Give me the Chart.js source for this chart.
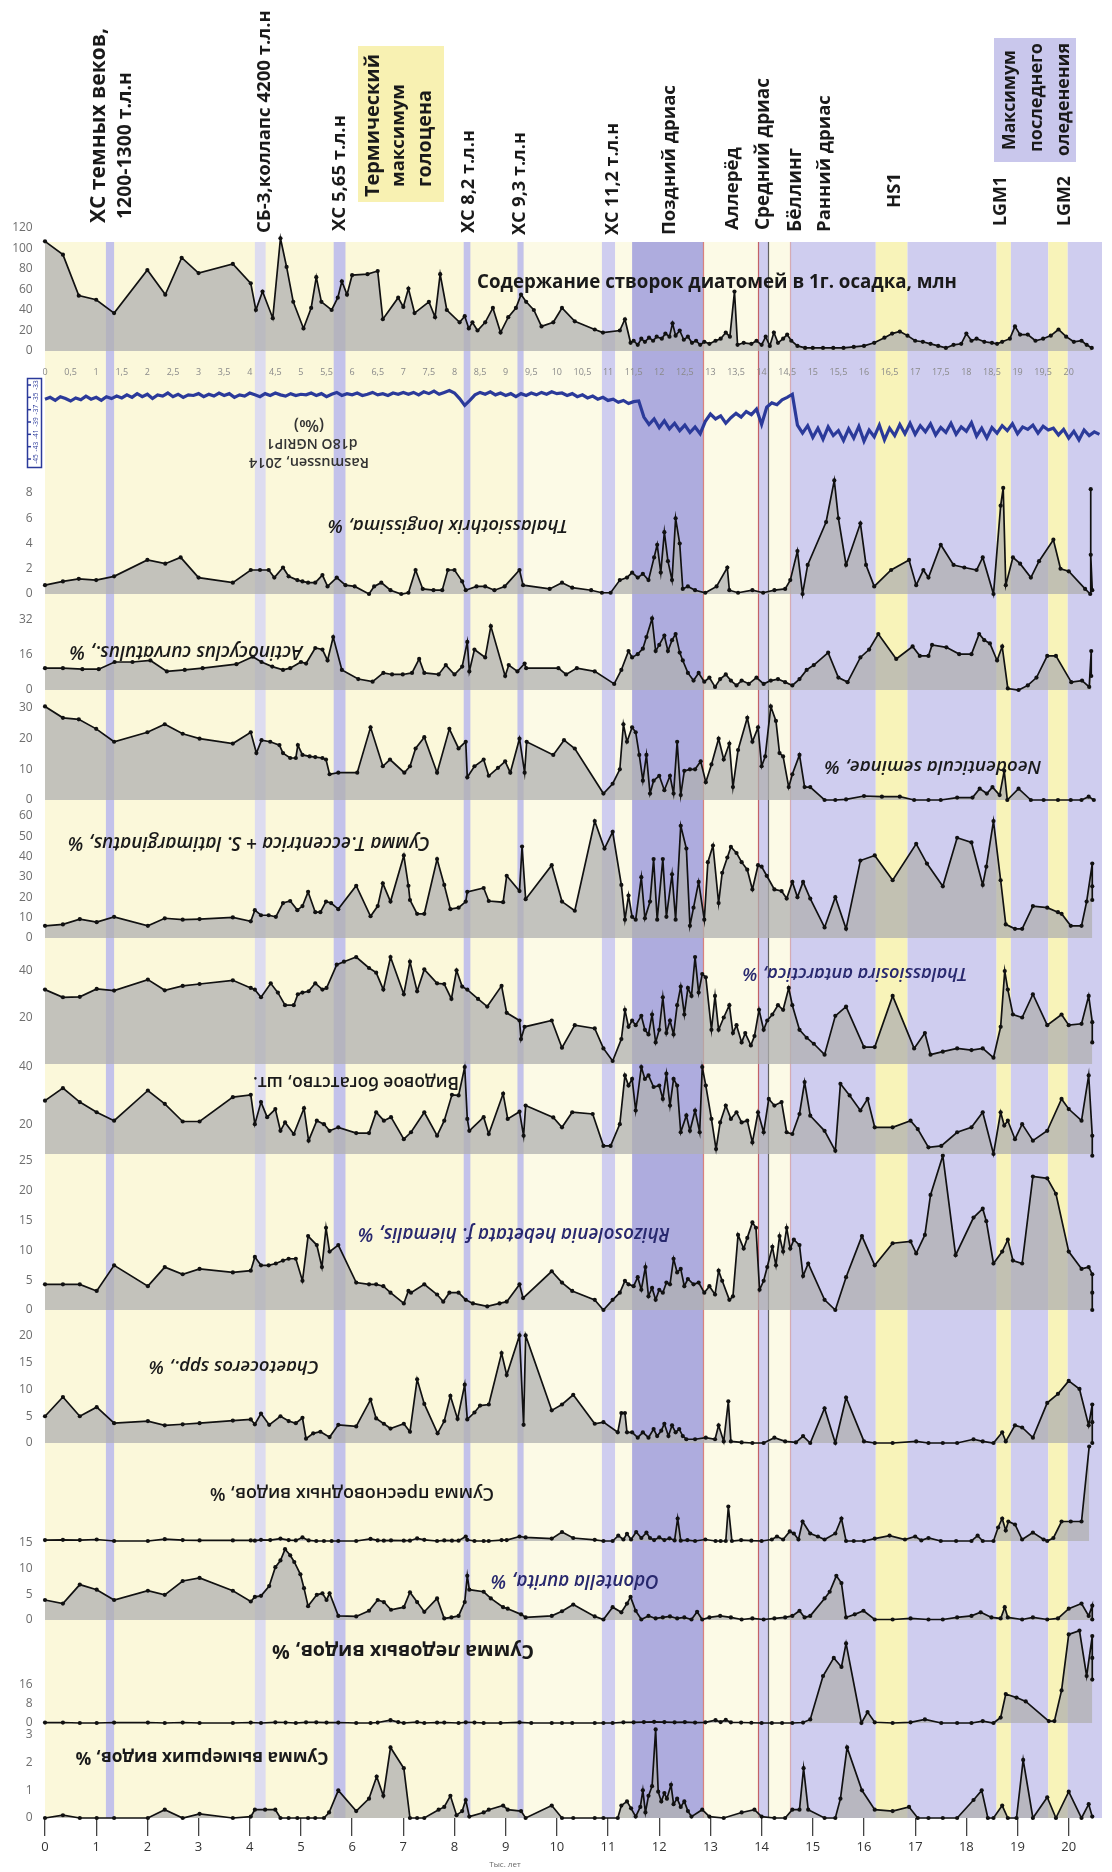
<!DOCTYPE html>
<html><head><meta charset="utf-8">
<script src="https://cdn.jsdelivr.net/npm/chart.js@4.4.1/dist/chart.umd.min.js"></script>
<style>html,body{margin:0;padding:0;background:#fff;}canvas{display:block;}</style>
</head><body>
<canvas id="c" width="1112" height="1872" style="width:1112px;height:1872px"></canvas>
<script>
// ---------------- DATA ----------------
const ageTicks = [0,1,2,3,4,5,6,7,8,9,10,11,12,13,14,15,16,17,18,19,20];
const ageTicksFine = [0,0.5,1,1.5,2,2.5,3,3.5,4,4.5,5,5.5,6,6.5,7,7.5,8,8.5,9,9.5,10,10.5,11,11.5,12,12.5,13,13.5,14,14.5,15,15.5,16,16.5,17,17.5,18,18.5,19,19.5,20];
const ageTicksFineLabels = ['0','0,5','1','1,5','2','2,5','3','3,5','4','4,5','5','5,5','6','6,5','7','7,5','8','8,5','9','9,5','10','10,5','11','11,5','12','12,5','13','13,5','14','14,5','15','15,5','16','16,5','17','17,5','18','18,5','19','19,5','20'];

const diatomTicks = [0,20,40,60,80,100,120];
const thalassiothrixTicks = [0,2,4,6,8];
const actinocyclusTicks = [0,16,32];
const neodenticulaTicks = [0,10,20,30];
const eccentricaTicks = [0,10,20,30,40,50,60];
const antarcticaTicks = [20,40];
const richnessTicks = [20,40];
const rhizosoleniaTicks = [0,5,10,15,20,25];
const chaetocerosTicks = [0,5,10,15,20];
const odontellaTicks = [0,5,10,15];
const iceTicks = [0,8,16];
const extinctTicks = [0,1,2,3];
const d18OTicks = [-33,-35,-37,-39,-41,-43,-45];

// climate intervals [start ka, end ka, kind]
const intervals = [
 [0,10.88,'holocene'],[9.35,10.88,'interstadial'],
 [1.19,1.35,'event'],[4.1,4.31,'eventLight'],[5.64,5.87,'event'],[8.18,8.31,'event'],[9.23,9.35,'event'],
 [10.88,11.14,'stadial'],[11.14,11.47,'interstadial'],[11.47,12.86,'youngerDryas'],[12.86,13.93,'interstadial'],
 [13.93,14.13,'stadial'],[14.13,14.56,'interstadial'],[14.56,16.23,'stadial'],[16.23,16.85,'warm'],
 [16.85,18.59,'stadial'],[18.59,18.87,'warm'],[18.87,19.6,'stadial'],[19.6,19.98,'warm'],[19.98,20.65,'stadial']
];
const boundaries = [[12.86,'rgba(205,90,90,0.75)'],[13.93,'rgba(190,70,70,0.8)'],[14.13,'rgba(70,70,70,0.85)'],[14.56,'rgba(210,140,140,0.6)']];

const diatomContent = [[0,107],[0.35,94],[0.66,54],[1.0,50],[1.35,37],[2.0,79],[2.35,55],[2.67,91],[3.0,76],[3.67,85],[4.02,66],[4.12,40],[4.25,58],[4.45,32],[4.6,110],[4.72,82],[4.85,48],[5.05,22],[5.2,42],[5.3,72],[5.4,48],[5.6,40],[5.72,52],[5.8,68],[5.9,55],[6.0,74],[6.3,75],[6.5,78],[6.6,31],[6.9,52],[7.0,43],[7.1,61],[7.22,37],[7.5,48],[7.62,33],[7.72,75],[7.85,40],[8.1,28],[8.2,34],[8.28,22],[8.35,28],[8.45,20],[8.6,28],[8.75,42],[8.9,18],[9.05,33],[9.2,42],[9.3,55],[9.4,48],[9.55,40],[9.7,24],[9.93,28],[10.1,42],[10.35,29],[10.74,21],[10.9,18],[11.23,20],[11.33,31],[11.44,8],[11.5,10],[11.58,6],[11.65,12],[11.72,9],[11.8,13],[11.88,10],[11.95,14],[12.05,12],[12.12,17],[12.2,14],[12.26,27],[12.32,15],[12.4,20],[12.48,11],[12.56,14],[12.64,8],[12.72,10],[12.8,6],[12.88,9],[12.98,7],[13.1,10],[13.2,12],[13.3,18],[13.38,14],[13.47,58],[13.53,6],[13.65,8],[13.8,7],[13.9,10],[14.0,6],[14.08,14],[14.16,5],[14.24,18],[14.32,8],[14.42,12],[14.5,16],[14.58,10],[14.7,5],[14.85,3],[15.0,3],[15.2,3],[15.4,3],[15.6,3],[15.8,4],[16.0,5],[16.2,8],[16.4,13],[16.55,17],[16.7,19],[16.85,15],[17.0,10],[17.15,9],[17.3,7],[17.45,5],[17.6,3],[17.75,6],[17.9,7],[18.0,17],[18.1,10],[18.2,12],[18.35,9],[18.5,8],[18.6,7],[18.7,9],[18.85,12],[18.95,24],[19.05,16],[19.2,16],[19.35,10],[19.5,12],[19.65,15],[19.8,21],[19.95,14],[20.1,9],[20.25,10],[20.35,6],[20.45,3]];

const d18OAge = [0,0.1,0.2,0.3,0.4,0.5,0.6,0.7,0.8,0.9,1,1.1,1.2,1.3,1.4,1.5,1.6,1.7,1.8,1.9,2,2.1,2.2,2.3,2.4,2.5,2.6,2.7,2.8,2.9,3,3.1,3.2,3.3,3.4,3.5,3.6,3.7,3.8,3.9,4,4.1,4.2,4.3,4.4,4.5,4.6,4.7,4.8,4.9,5,5.1,5.2,5.3,5.4,5.5,5.6,5.7,5.8,5.9,6,6.1,6.2,6.3,6.4,6.5,6.6,6.7,6.8,6.9,7,7.1,7.2,7.3,7.4,7.5,7.6,7.7,7.8,7.9,8,8.1,8.2,8.3,8.4,8.5,8.6,8.7,8.8,8.9,9,9.1,9.2,9.3,9.4,9.5,9.6,9.7,9.8,9.9,10,10.1,10.2,10.3,10.4,10.5,10.6,10.7,10.8,10.9,11,11.1,11.2,11.3,11.4,11.5,11.6,11.7,11.8,11.9,12,12.1,12.2,12.3,12.4,12.5,12.6,12.7,12.8,12.9,13,13.1,13.2,13.3,13.4,13.5,13.6,13.7,13.8,13.9,14,14.1,14.2,14.3,14.4,14.5,14.6,14.7,14.8,14.9,15,15.1,15.2,15.3,15.4,15.5,15.6,15.7,15.8,15.9,16,16.1,16.2,16.3,16.4,16.5,16.6,16.7,16.8,16.9,17,17.1,17.2,17.3,17.4,17.5,17.6,17.7,17.8,17.9,18,18.1,18.2,18.3,18.4,18.5,18.6,18.7,18.8,18.9,19,19.1,19.2,19.3,19.4,19.5,19.6,19.7,19.8,19.9,20,20.1,20.2,20.3,20.4,20.5,20.6];
const d18OVal = [
 -35.3,-35.0,-35.5,-34.9,-35.2,-35.6,-35.1,-35.4,-34.8,-35.3,-35.0,-35.5,-34.9,-35.2,
 -34.8,-35.1,-34.6,-35.0,-34.4,-34.9,-34.5,-35.2,-34.6,-34.8,-34.3,-34.9,-34.5,-35.0,-34.6,-34.7,-34.4,
 -34.9,-34.5,-34.8,-34.3,-34.7,-34.4,-35.0,-34.6,-34.8,-34.3,-34.6,-34.9,-34.4,-34.7,-34.3,-34.6,-34.8,-34.4,-34.7,-34.5,
 -34.6,-34.3,-34.7,-34.4,-34.9,-34.5,-34.2,-34.7,-34.4,-34.6,-34.3,-34.7,-34.5,-34.2,-34.6,-34.4,-34.7,-34.3,-34.5,-34.2,
 -34.5,-34.2,-34.6,-34.1,-34.4,-34.0,-34.5,-34.2,-33.9,-34.3,
 -35.2,-36.3,-35.5,-34.6,-34.2,
 -34.5,-34.1,-34.6,-34.3,-34.7,-34.4,-34.9,-34.4,-34.7,-34.3,-34.6,-34.2,-34.5,-34.1,-34.4,
 -34.3,-34.7,-34.4,-34.9,-34.6,-35.1,-34.8,-35.3,-35.0,-35.5,
 -35.3,-35.8,-35.5,-36.0,-35.7,-35.6,
 -38.2,-39.4,-38.5,-39.9,-38.8,-40.1,-39.2,-40.4,-39.5,-40.7,-39.8,-40.9,
 -38.9,-37.7,-38.5,-38.0,-39.2,-38.3,-37.6,-38.2,-37.3,-37.8,-36.9,-39.4,-36.6,-35.9,-36.2,-35.4,-35.0,-34.5,
 -39.5,-40.8,-39.6,-41.5,-40.0,-41.8,-39.8,-41.2,-40.4,-42.0,
 -40.1,-41.6,-39.7,-42.1,-40.3,-41.4,-39.5,-41.9,-40.0,-41.2,
 -39.4,-40.9,-39.2,-41.0,-39.6,-40.6,-39.3,-41.1,-39.9,-40.7,
 -39.2,-41.0,-39.8,-40.5,-39.1,-41.3,-40.0,-41.6,-39.9,-40.8,
 -39.6,-40.4,-39.3,-40.9,-39.8,-40.2,-39.5,-40.8,-39.7,-40.3,
 -40.0,-41.1,-40.2,-41.6,-40.5,-41.9,-40.3,-41.2,-40.6,-41.0];

const thalassiothrix = [[0,0.7],[0.35,1.0],[0.66,1.2],[1.0,1.1],[1.35,1.4],[2.0,2.7],[2.35,2.4],[2.65,2.9],[3.0,1.3],[3.67,0.9],[4.02,1.9],[4.2,1.9],[4.37,1.9],[4.48,1.3],[4.65,2.1],[4.76,1.4],[4.93,1.1],[5.03,1.0],[5.14,0.9],[5.28,0.9],[5.42,1.5],[5.52,0.6],[5.7,1.3],[5.87,0.7],[6.05,0.6],[6.33,0],[6.43,0.6],[6.57,0.9],[6.75,0.3],[6.96,0],[7.1,0.1],[7.24,1.9],[7.38,0.4],[7.59,0.3],[7.76,0.3],[7.87,1.9],[8.0,1.9],[8.15,1.0],[8.22,0.3],[8.43,0.6],[8.6,0.6],[8.78,0.3],[8.98,0.6],[9.27,1.9],[9.34,0.7],[9.86,0.4],[10.1,0.9],[10.3,0.5],[10.67,0.3],[10.88,0.1],[11.05,0.1],[11.23,1.1],[11.37,1.3],[11.47,1.7],[11.58,1.3],[11.68,1.6],[11.79,1.1],[11.9,2.9],[11.96,3.9],[12.03,1.7],[12.1,4.9],[12.17,2.6],[12.25,1.1],[12.32,6.0],[12.4,4.0],[12.46,0.4],[12.56,0.6],[12.7,0.3],[12.9,0.1],[13.12,0.6],[13.33,2.1],[13.37,0.3],[13.54,0.1],[13.82,0.3],[14.03,0.1],[14.25,0.3],[14.46,0.4],[14.56,1.1],[14.7,3.4],[14.8,0],[14.9,2.3],[15.26,5.7],[15.42,9.0],[15.5,6.0],[15.65,2.3],[15.93,5.6],[16.04,2.3],[16.2,0.6],[16.53,1.9],[16.88,2.7],[17.02,0.7],[17.16,1.9],[17.26,1.3],[17.5,3.9],[17.75,2.3],[17.96,2.1],[18.2,1.9],[18.32,2.9],[18.53,0],[18.67,7.0],[18.72,8.4],[18.77,0.7],[18.91,2.9],[19.05,2.4],[19.26,1.3],[19.42,2.6],[19.7,4.3],[19.84,2.0],[20.0,1.8],[20.32,0.4],[20.42,0],[20.43,8.3],[20.43,3.1],[20.46,0.3]];

const actinocyclus = [[0,10],[0.35,10],[0.73,9.5],[1.05,9.5],[1.36,12.8],[1.71,12.8],[2.06,13.5],[2.38,8.5],[2.73,9.2],[3.08,10],[3.74,11.8],[4.06,15.2],[4.23,12.8],[4.44,10.7],[4.65,9.2],[4.79,10],[5.0,12.8],[5.1,12.1],[5.28,19.2],[5.42,18.5],[5.52,13.5],[5.63,24.2],[5.8,9.2],[6.12,5.0],[6.4,3.8],[6.61,7.8],[6.78,7.1],[6.99,7.1],[7.17,7.8],[7.31,14.2],[7.41,7.8],[7.69,7.1],[7.83,11.4],[8.0,7.1],[8.15,10.7],[8.25,22.0],[8.29,8.5],[8.39,18.5],[8.6,14.9],[8.71,29.2],[8.99,6.4],[9.06,11.4],[9.23,8.5],[9.37,12.1],[9.4,10],[10.03,10],[10.18,7.1],[10.39,10],[10.74,8.5],[11.12,2.8],[11.26,9.2],[11.4,17.8],[11.47,14.9],[11.58,16.4],[11.68,18.9],[11.75,24.2],[11.86,32.7],[11.93,17.8],[12.0,20.6],[12.1,24.9],[12.17,17.8],[12.25,22.8],[12.32,25.6],[12.4,17.1],[12.46,13.5],[12.56,7.8],[12.67,4.3],[12.77,7.8],[12.88,3.8],[12.98,5.7],[13.09,1.4],[13.19,5.0],[13.3,7.1],[13.4,4.3],[13.51,2.1],[13.61,4.3],[13.75,2.8],[13.9,5.7],[14.04,2.8],[14.18,4.3],[14.32,5.0],[14.46,3.6],[14.6,2.1],[14.74,5.0],[14.88,9.2],[15.02,11.4],[15.3,17.1],[15.5,5.7],[15.68,3.6],[15.93,14.9],[16.1,18.5],[16.28,25.6],[16.63,14.2],[16.95,19.9],[17.09,15.6],[17.26,15.6],[17.33,20.6],[17.61,19.5],[17.86,16.4],[18.1,16.4],[18.25,25.6],[18.35,22.8],[18.46,21.3],[18.6,13.5],[18.7,19.9],[18.81,0.7],[19.02,0],[19.2,2.1],[19.37,5.7],[19.58,15.6],[19.75,15.6],[20.05,3.6],[20.26,4.3],[20.4,1.4],[20.44,17.8],[20.44,6.4]];

const neodenticula = [[0,30.5],[0.35,26.8],[0.66,26.3],[1.0,23.2],[1.35,19],[2.0,22.1],[2.34,24.7],[2.69,21.6],[3.02,20],[3.67,18.4],[4.02,22.1],[4.13,15.3],[4.23,19.5],[4.4,19],[4.58,17.9],[4.65,15.3],[4.79,13.7],[4.9,13.7],[4.94,17.9],[5.03,14.7],[5.17,14.2],[5.28,14],[5.42,13.7],[5.49,13.2],[5.56,8.4],[5.73,8.9],[6.1,8.9],[6.36,23.7],[6.6,11],[6.74,13.2],[7.02,8.9],[7.13,11],[7.24,16.8],[7.41,20.5],[7.66,8.9],[7.9,23.2],[8.08,16.8],[8.22,19],[8.25,7.4],[8.39,11],[8.57,13.2],[8.67,7.9],[8.85,10.5],[8.99,12.6],[9.09,8.9],[9.27,20],[9.37,8.9],[9.41,19],[9.93,14.7],[10.14,19.5],[10.35,16.8],[10.91,2.1],[11.09,5.3],[11.23,10],[11.3,24.7],[11.37,19],[11.47,23.7],[11.54,22.1],[11.61,14.7],[11.68,6.3],[11.75,14.7],[11.82,2.1],[11.89,6.3],[12.0,7.9],[12.1,3.2],[12.21,7.9],[12.28,2.1],[12.35,19],[12.42,1.6],[12.49,9.5],[12.6,10],[12.7,10],[12.81,12.6],[12.91,5.8],[13.02,11.6],[13.16,20],[13.26,13.2],[13.37,18.4],[13.44,4.2],[13.54,16.3],[13.72,26.8],[13.82,19],[13.93,23.7],[14.0,11],[14.07,14.2],[14.18,30.5],[14.28,25.8],[14.35,15.3],[14.42,14.2],[14.53,4.2],[14.6,8.4],[14.74,14.7],[14.84,4.2],[14.95,4.2],[15.23,0],[15.44,0],[15.65,0.2],[16.0,1.3],[16.35,1.1],[16.7,1.1],[16.98,0],[17.26,0],[17.5,0],[17.82,0.8],[18.12,0.8],[18.26,3.7],[18.4,2.1],[18.51,4.2],[18.65,1.6],[18.74,9.5],[18.8,0],[19.02,3.7],[19.26,0],[19.51,0],[19.79,0],[20.04,0],[20.25,0],[20.39,1.1],[20.49,0]];

const eccentricaSum = [[0,6],[0.35,6.7],[0.68,9.3],[1.01,7.8],[1.35,10.4],[2.01,6],[2.34,9.7],[2.69,9],[3.02,9.3],[3.67,10.1],[4.02,8.2],[4.1,13.7],[4.22,11.2],[4.37,11.2],[4.51,10.4],[4.65,17.2],[4.79,18.2],[4.93,13.7],[5.03,15.7],[5.14,22.7],[5.28,12.7],[5.38,12.7],[5.49,17.9],[5.59,17.2],[5.73,14.2],[6.08,25.7],[6.36,10.7],[6.5,15.7],[6.6,26.9],[6.75,17.9],[7.01,40.6],[7.1,25.7],[7.13,18.7],[7.27,11.9],[7.41,11.9],[7.66,38.8],[7.8,26.1],[7.92,14.2],[8.08,14.9],[8.22,17.9],[8.25,22.7],[8.57,24.6],[8.67,18.2],[8.95,17.6],[9.02,30.6],[9.27,23.1],[9.32,45],[9.39,19.1],[9.9,35.8],[10.1,17.9],[10.35,13.4],[10.74,57.5],[10.93,44],[11.09,52.2],[11.26,26.1],[11.33,9],[11.4,20.9],[11.47,10.4],[11.54,9],[11.65,29.9],[11.72,9.7],[11.82,17.9],[11.89,38.8],[11.96,9],[12.07,38.8],[12.14,10.4],[12.25,31.3],[12.32,9],[12.42,55.2],[12.53,44],[12.6,6],[12.67,14.9],[12.77,27.6],[12.88,9],[12.95,37.3],[13.05,45.5],[13.16,17.2],[13.23,32.1],[13.33,39.6],[13.4,44.8],[13.51,41.8],[13.61,37.3],[13.72,33.6],[13.82,23.9],[13.93,35.8],[14.0,35.1],[14.1,30.6],[14.25,23.9],[14.39,23.1],[14.49,19.4],[14.6,27.6],[14.7,20.1],[14.81,27.6],[14.95,19.4],[15.23,5.2],[15.44,20.1],[15.65,4.5],[15.93,38.1],[16.21,40.6],[16.56,28.4],[17.02,46.3],[17.23,36.6],[17.54,25.4],[17.82,49.3],[18.1,47],[18.32,26.1],[18.39,35.1],[18.53,57.5],[18.67,28.4],[18.77,6.7],[18.95,4.5],[19.09,4.5],[19.3,15.7],[19.58,14.9],[19.79,12.7],[19.86,11.9],[20.04,6],[20.25,6],[20.35,17.9],[20.46,36.6],[20.46,25.4],[20.46,18.7]];

const antarctica = [[0,32],[0.35,28.7],[0.68,28.9],[1.01,32.3],[1.35,31.6],[2.01,36.3],[2.34,31.7],[2.69,33.6],[3.02,34.4],[3.67,36],[4.02,32.7],[4.1,32],[4.22,28.7],[4.41,34.7],[4.55,30.7],[4.69,25.3],[4.86,25.3],[4.94,30],[5.03,30.7],[5.15,31.3],[5.28,34.7],[5.42,32],[5.5,32.7],[5.7,42.7],[5.84,44],[6.08,46],[6.33,41.3],[6.47,39.3],[6.61,32],[6.75,46],[7.01,30],[7.13,44],[7.27,31.3],[7.41,40.7],[7.66,34.7],[7.8,34.4],[7.94,28],[8.04,40.3],[8.15,33.3],[8.25,32],[8.46,28],[8.64,24.7],[8.92,33.6],[9.02,22],[9.27,18.7],[9.3,10.7],[9.37,16],[9.9,18.7],[10.1,7],[10.35,16.7],[10.74,15.3],[10.91,6.7],[11.09,1.3],[11.26,10.7],[11.33,23.3],[11.4,16],[11.47,18.7],[11.54,16.7],[11.65,20.7],[11.72,14.7],[11.79,12.7],[11.86,21.3],[11.93,9.3],[12.0,14.7],[12.07,28.7],[12.14,13.3],[12.21,18.7],[12.28,12.7],[12.35,25.3],[12.42,33.3],[12.49,21.3],[12.56,32.7],[12.63,29.3],[12.7,46],[12.77,30.7],[12.84,38.7],[12.91,37.3],[13.02,14.7],[13.09,29.3],[13.16,14.7],[13.26,20],[13.37,25.3],[13.44,13.3],[13.51,16.7],[13.61,9.3],[13.68,13.3],[13.79,8],[13.86,12],[13.95,23.3],[14.04,14.7],[14.11,18.7],[14.21,21.3],[14.32,25.3],[14.42,23.3],[14.53,32.7],[14.6,25.3],[14.74,14.7],[14.88,11.3],[15.02,8.7],[15.23,4],[15.44,20.7],[15.65,24.7],[16.0,7.3],[16.21,7.3],[16.56,29.3],[16.98,6.7],[17.19,13.3],[17.3,4],[17.54,5.3],[17.82,6.7],[18.1,6],[18.32,6.7],[18.53,2.7],[18.67,16],[18.75,40],[18.81,32],[18.91,21.3],[19.09,20],[19.3,30],[19.58,16.7],[19.86,21.3],[20.0,16.7],[20.25,17.3],[20.39,29.3],[20.46,18],[20.46,9.3]];

const richness = [[0,28.4],[0.35,32.7],[0.68,27.9],[1.01,24.4],[1.35,21.5],[2.01,31.9],[2.34,27.3],[2.69,21.2],[3.02,21.2],[3.67,29.6],[4.02,30.4],[4.1,20.3],[4.22,27.9],[4.34,22.7],[4.5,25.5],[4.6,18],[4.69,20.9],[4.86,16.9],[5.06,25.8],[5.15,14.6],[5.31,21.5],[5.45,20.3],[5.56,18],[5.73,19.2],[6.08,17.2],[6.33,17.2],[6.47,24.4],[6.62,21.5],[6.76,22.7],[7.01,15.1],[7.15,17.5],[7.41,24.4],[7.66,16.3],[7.8,21.5],[7.95,30.4],[8.08,30.2],[8.2,40],[8.25,22.1],[8.29,18],[8.57,22.7],[8.67,16.9],[8.95,30.8],[9.04,22.1],[9.27,24.6],[9.35,16.3],[9.39,26.7],[9.93,22.6],[10.1,19.2],[10.3,24.4],[10.7,23.8],[10.91,12.8],[11.05,12.8],[11.23,20.3],[11.33,37.1],[11.4,33.6],[11.47,35.9],[11.54,25],[11.65,40],[11.72,35.9],[11.79,37.1],[11.89,33.1],[12.0,33.6],[12.07,29],[12.14,37.7],[12.21,26.7],[12.28,35.9],[12.35,33.6],[12.42,17.5],[12.53,23.3],[12.6,18],[12.7,25],[12.79,17.5],[12.84,40],[12.91,33.6],[13.02,22.1],[13.11,11.7],[13.19,20.9],[13.3,26.7],[13.4,22.1],[13.51,24.4],[13.61,20.9],[13.72,21.5],[13.82,14],[13.93,24.4],[14.04,17.5],[14.14,29],[14.25,26.7],[14.39,27.9],[14.49,17.5],[14.6,16.9],[14.74,23.8],[14.84,34.8],[14.95,23.2],[15.23,18],[15.44,11.1],[15.54,34.2],[15.72,30.2],[15.93,25],[16.07,29],[16.21,19.2],[16.56,19.2],[16.91,21.5],[17.05,18.6],[17.26,12.3],[17.51,12.8],[17.82,17.5],[18.1,19.2],[18.32,24.4],[18.53,10],[18.67,24.4],[18.74,19.8],[18.81,21.5],[18.95,15.1],[19.09,20.3],[19.3,14.6],[19.58,18],[19.86,29],[20.0,25.5],[20.25,21.5],[20.39,37.1],[20.46,16.3],[20.46,9.4]];

const rhizosolenia = [[0,4.3],[0.35,4.3],[0.68,4.3],[1.01,3.2],[1.35,7.5],[2.01,4],[2.34,7.2],[2.69,6],[3.02,6.9],[3.67,6.3],[4.02,6.6],[4.1,8.9],[4.22,7.5],[4.37,7.5],[4.51,7.8],[4.65,8.3],[4.76,8.6],[4.9,8.6],[5.03,4.9],[5.14,12.4],[5.31,10.9],[5.41,7.2],[5.49,13.8],[5.56,9.8],[5.73,10.9],[6.08,4.6],[6.33,4.3],[6.47,4.3],[6.61,4],[6.75,2.9],[7.01,1.1],[7.1,3.2],[7.15,2.9],[7.41,4.3],[7.66,2.6],[7.78,1.4],[7.9,2.9],[8.08,2.9],[8.22,1.7],[8.36,1.1],[8.64,0.6],[8.88,1.1],[9.02,1.4],[9.27,4.3],[9.34,2],[9.9,6.5],[10.1,4.6],[10.3,3.2],[10.74,1.7],[10.91,0],[11.09,1.7],[11.23,2.9],[11.33,4.9],[11.4,4.3],[11.5,4],[11.58,5.5],[11.65,3.4],[11.73,7.2],[11.79,2.3],[11.86,3.7],[11.93,1.7],[12.0,3.4],[12.07,2.9],[12.14,4.6],[12.21,4.3],[12.28,8.6],[12.35,6.3],[12.42,6.9],[12.49,4],[12.56,5.2],[12.67,4.3],[12.77,4.6],[12.88,2.9],[12.98,4],[13.09,2.6],[13.16,6.6],[13.23,4.9],[13.37,1.7],[13.44,2.3],[13.54,12.6],[13.65,10.3],[13.72,12.1],[13.82,14.7],[13.89,13.8],[13.96,3.4],[14.04,4.9],[14.11,7.2],[14.21,10.6],[14.28,7.5],[14.35,12.4],[14.42,9.8],[14.49,13.8],[14.56,10.3],[14.63,11.8],[14.74,10.9],[14.81,5.7],[14.91,7.8],[15.23,1.7],[15.44,0],[15.65,5.5],[15.96,12.4],[16.21,7.5],[16.56,11.2],[16.91,11.5],[17.02,9.5],[17.19,12.6],[17.3,19.3],[17.54,25.9],[17.79,9.2],[18.14,15.5],[18.32,17],[18.39,14.9],[18.53,7.8],[18.7,9.8],[18.81,11.8],[18.91,8.3],[19.09,7.8],[19.3,22.4],[19.58,22.1],[19.75,19.5],[20.0,9.8],[20.25,6.9],[20.39,7.2],[20.46,6],[20.46,2.9],[20.46,0]];

const chaetoceros = [[0,5],[0.35,8.6],[0.68,5],[1.01,6.7],[1.35,3.7],[2.01,4.1],[2.34,3.3],[2.69,3.5],[3.02,3.7],[3.67,4.2],[4.02,4.4],[4.1,3.5],[4.22,5.5],[4.38,3.4],[4.6,5],[4.76,4.1],[4.9,3.7],[5.03,4.7],[5.1,0.8],[5.24,1.8],[5.38,2.1],[5.56,1.1],[5.73,3.4],[6.08,3.1],[6.36,8.1],[6.47,4.6],[6.62,3.6],[6.75,2.7],[7.01,3.6],[7.13,2.1],[7.27,11.9],[7.41,7.3],[7.67,1.8],[7.8,4.1],[7.92,8.8],[8.06,4.5],[8.2,10.9],[8.25,4.4],[8.39,5.7],[8.5,7],[8.67,7.2],[8.92,16.8],[9.02,12.7],[9.27,20.1],[9.35,3.4],[9.39,20.1],[9.9,6.1],[10.1,7.2],[10.32,9],[10.74,3.6],[10.91,3.9],[11.19,2],[11.26,5.6],[11.33,5.6],[11.37,2],[11.47,2],[11.58,1],[11.68,2],[11.79,1],[11.89,2.6],[11.96,1.3],[12.04,2.3],[12.1,3.6],[12.18,1.3],[12.25,3.3],[12.32,2],[12.39,2.6],[12.46,1.3],[12.53,0.7],[12.7,0.7],[12.91,1],[13.09,0.7],[13.16,3.3],[13.26,0.3],[13.35,7.8],[13.4,0.3],[13.61,0.1],[13.82,0],[14.04,0],[14.25,1],[14.46,0.3],[14.67,0.1],[14.81,1.3],[14.95,0],[15.23,6.5],[15.44,0],[15.65,8.5],[16.0,0.3],[16.21,0],[16.56,0],[17.02,0.3],[17.26,0],[17.54,0],[17.82,0],[18.14,0.7],[18.32,0.3],[18.53,0],[18.7,2],[18.77,0.3],[18.95,3.3],[19.09,2.9],[19.3,1],[19.58,7.5],[19.79,9.2],[20.0,11.6],[20.21,10.1],[20.39,3.3],[20.46,7.2],[20.46,3.9],[20.46,0]];

const freshwater = [[0,0.3],[0.35,0.4],[0.68,0.3],[1.01,0.5],[1.35,0],[2.01,0],[2.34,0.6],[2.69,0.3],[3.02,0.2],[3.67,0.2],[4.02,0.2],[4.1,0.1],[4.22,0.4],[4.4,0.3],[4.6,0.8],[4.76,0.3],[4.9,0.2],[5.03,1.2],[5.15,0.2],[5.3,0],[5.45,0],[5.6,0],[5.73,0],[6.08,0],[6.36,0.7],[6.5,0.2],[6.62,0.1],[6.76,0.2],[7.01,0.1],[7.13,0.1],[7.27,0.9],[7.41,0.4],[7.66,0],[7.8,0.2],[7.95,0.1],[8.08,0.1],[8.22,1.5],[8.25,0.4],[8.39,0],[8.57,0],[8.67,0],[8.92,0.3],[9.02,0.3],[9.27,1.5],[9.39,1.2],[9.9,0.8],[10.1,3],[10.32,1],[10.74,0.4],[10.91,0],[11.09,0],[11.2,1.8],[11.3,0.5],[11.37,2.4],[11.45,0.5],[11.55,3],[11.65,1],[11.75,2.8],[11.82,1],[11.9,0.3],[12.0,1.2],[12.1,0.3],[12.2,0.9],[12.3,0.2],[12.36,7.5],[12.42,0.1],[12.55,0.3],[12.7,0],[12.9,0.5],[13.1,0],[13.2,0],[13.3,0],[13.35,11.5],[13.42,0],[13.6,0.3],[13.8,0.1],[14.0,0],[14.2,0.5],[14.3,1.5],[14.42,0.5],[14.55,3.2],[14.63,2.5],[14.72,0.5],[14.8,6.5],[14.95,2.5],[15.1,1.5],[15.23,0.5],[15.44,2.5],[15.56,7.5],[15.65,0],[15.8,0],[16.0,0],[16.21,0.8],[16.5,1.8],[16.8,0.5],[17.0,1.5],[17.12,0.2],[17.26,1],[17.5,0],[17.8,0],[18.1,0],[18.22,1.8],[18.32,0],[18.53,0],[18.62,4.5],[18.7,7.5],[18.77,3.5],[18.82,6.5],[18.95,5.5],[19.09,0.5],[19.3,2.8],[19.51,0.5],[19.58,0],[19.7,1],[19.86,6.5],[20.04,6.5],[20.25,6.5],[20.4,31.5]];

const odontella = [[0,3.9],[0.35,3.2],[0.68,6.9],[1.01,5.9],[1.35,3.9],[2.01,5.7],[2.34,4.9],[2.69,7.6],[3.02,8.2],[3.67,5.7],[4.02,3.6],[4.1,4.5],[4.22,4.7],[4.38,6.6],[4.5,10.3],[4.6,11.6],[4.69,13.8],[4.79,12.6],[4.87,11.3],[4.99,8.9],[5.06,6.2],[5.14,2.7],[5.31,4.9],[5.42,5.2],[5.5,3.9],[5.56,5.2],[5.73,0.8],[6.08,0.7],[6.33,1.8],[6.5,3.9],[6.62,3.5],[6.76,2],[7.01,2.5],[7.13,5.4],[7.27,3.5],[7.41,1.6],[7.66,4.2],[7.8,0.3],[7.94,0.5],[8.08,0.8],[8.2,3.5],[8.25,8.6],[8.29,5.9],[8.57,5.5],[8.71,4.2],[8.95,2.5],[9.04,2.2],[9.3,1.1],[9.39,0.5],[9.9,0.8],[10.1,1.7],[10.32,3],[10.74,0.7],[10.91,0.1],[11.09,2.5],[11.26,1.5],[11.37,3.2],[11.44,4.5],[11.54,1.8],[11.65,0.1],[11.79,0.8],[11.93,0.3],[12.07,0.5],[12.21,0.7],[12.35,0.3],[12.49,0.5],[12.63,0.1],[12.74,1.6],[12.84,0.1],[12.98,0.5],[13.19,0.8],[13.4,0.5],[13.61,0.1],[13.82,0.3],[14.04,0.1],[14.25,0.3],[14.46,0.5],[14.6,0.8],[14.74,1.8],[14.84,0.5],[14.95,0.8],[15.23,4.2],[15.33,5.5],[15.46,8.6],[15.56,7.2],[15.65,0.5],[15.82,1.1],[15.99,1.8],[16.21,0.1],[16.56,0.1],[16.91,0.3],[17.26,0.1],[17.54,0.1],[17.82,0.5],[18.1,0.8],[18.28,1.5],[18.49,0.5],[18.67,0.3],[18.75,2.5],[18.81,0.5],[19.09,0.1],[19.3,0.5],[19.58,0.1],[19.79,0.3],[20.0,2.2],[20.25,3.2],[20.39,0.8],[20.46,2.8],[20.46,0.1]];

const iceSpecies = [[0,0.2],[0.35,0.2],[0.68,0],[1.01,0],[1.35,0.2],[2.01,0.2],[2.34,0],[2.69,0.2],[3.02,0],[3.67,0],[4.02,0.2],[4.22,0],[4.5,0.3],[4.7,0.2],[4.9,0],[5.1,0.3],[5.3,0.3],[5.5,0.2],[5.73,0.2],[6.08,0],[6.36,0],[6.5,0.2],[6.75,1.2],[6.9,0.4],[7.01,0],[7.27,0.4],[7.41,0],[7.66,0.2],[7.8,0.2],[8.08,0],[8.22,0.3],[8.39,0.2],[8.57,0],[8.9,0],[9.27,0.3],[9.5,0],[9.9,0],[10.1,0],[10.3,0],[10.74,0],[10.91,0],[11.09,0],[11.3,0.3],[11.5,0.3],[11.7,0.4],[11.9,0.5],[12.1,0.4],[12.3,0.3],[12.5,0.4],[12.7,0.2],[12.9,0.3],[13.1,1.2],[13.2,0.4],[13.3,1.3],[13.4,0.3],[13.6,0.2],[13.8,0.1],[14.0,0],[14.2,0],[14.4,0],[14.6,0],[14.81,0.2],[14.95,1.5],[15.2,19.8],[15.41,27.4],[15.56,23.6],[15.65,33.5],[15.95,0],[16.07,4.6],[16.21,0.3],[16.56,0],[16.91,0.3],[17.19,1.5],[17.51,0],[17.82,0],[18.1,0],[18.32,0.8],[18.53,0],[18.67,2.3],[18.77,12.2],[18.98,10.7],[19.16,9.1],[19.61,0.8],[19.72,0.8],[19.86,13.7],[20.0,37.3],[20.21,38.9],[20.35,19.8],[20.46,36.6],[20.46,27.4],[20.46,18.3]];

const extinctSpecies = [[0,0],[0.35,0.1],[0.68,0],[1.01,0],[1.35,0],[2.01,0],[2.34,0.3],[2.69,0],[3.02,0.15],[3.67,0],[4.02,0.05],[4.1,0.3],[4.3,0.3],[4.5,0.3],[4.6,0],[4.76,0],[4.93,0],[5.14,0],[5.28,0],[5.45,0],[5.55,0.2],[5.73,1.0],[6.08,0.25],[6.33,0.7],[6.48,1.5],[6.61,0.8],[6.75,2.55],[7.01,1.8],[7.13,0],[7.27,0],[7.41,0],[7.69,0.3],[7.8,0.4],[7.92,0.8],[8.04,0.1],[8.15,0.25],[8.22,0.65],[8.29,0.05],[8.57,0.2],[8.67,0.3],[8.95,0.45],[9.04,0.3],[9.3,0.25],[9.39,0],[9.9,0.45],[10.1,0],[10.32,0],[10.74,0],[10.91,0],[11.19,0],[11.26,0.45],[11.37,0.6],[11.45,0.35],[11.54,0.05],[11.63,0.4],[11.68,1.0],[11.73,0.2],[11.79,0.8],[11.86,1.15],[11.93,3.2],[11.98,0.95],[12.04,0.6],[12.1,0.9],[12.15,0.7],[12.23,1.2],[12.28,0.5],[12.35,0.7],[12.42,0.4],[12.49,0.6],[12.56,0.25],[12.63,0.05],[12.84,0.3],[12.98,0.05],[13.26,0],[13.61,0.2],[13.86,0.3],[14.0,0.05],[14.25,0],[14.46,0],[14.6,0.3],[14.74,0.3],[14.82,1.8],[14.91,0.3],[15.23,0],[15.44,0],[15.54,0.7],[15.67,2.55],[15.96,1.0],[16.21,0.3],[16.56,0.25],[16.88,0.4],[17.05,0],[17.26,0],[17.54,0],[17.82,0],[18.14,0.65],[18.3,1.0],[18.42,0],[18.53,0],[18.7,0.45],[18.81,0],[18.98,0],[19.11,2.1],[19.3,0],[19.58,0.75],[19.75,0],[20.0,0.95],[20.25,0],[20.39,0.5],[20.46,0.05]];

// ---------------- LAYOUT / STYLE ----------------
const FONT = '"Open Sans", "DejaVu Sans", sans-serif';
const T = 220, B = 1818, BAND_TOP = 242;
const bandColors = {holocene:'#fbf8da', interstadial:'#fcfae6', event:'#c3c2ea', eventLight:'#dddcef', stadial:'#cfcdef', youngerDryas:'#aeacde', warm:'#f8f3b9'};

const panelLayout = [
 {id:'yDia', series:diatomContent, lo:0, loPx:351, hi:120, hiPx:228, ticks:diatomTicks, base:0},
 {id:'yTl', series:thalassiothrix, lo:0, loPx:594, hi:8, hiPx:493, ticks:thalassiothrixTicks, base:0},
 {id:'yAc', series:actinocyclus, lo:0, loPx:690, hi:32, hiPx:620, ticks:actinocyclusTicks, base:0},
 {id:'yNe', series:neodenticula, lo:0, loPx:800, hi:30, hiPx:708, ticks:neodenticulaTicks, base:0},
 {id:'yTe', series:eccentricaSum, lo:0, loPx:938, hi:60, hiPx:816, ticks:eccentricaTicks, base:0},
 {id:'yTa', series:antarctica, lo:0, loPx:1064, hi:40, hiPx:971, ticks:antarcticaTicks, base:0},
 {id:'yRi', series:richness, lo:20, loPx:1125, hi:40, hiPx:1067, ticks:richnessTicks, base:10},
 {id:'yRh', series:rhizosolenia, lo:0, loPx:1310, hi:25, hiPx:1161, ticks:rhizosoleniaTicks, base:0},
 {id:'yCh', series:chaetoceros, lo:0, loPx:1443, hi:20, hiPx:1336, ticks:chaetocerosTicks, base:0},
 {id:'yFw', series:freshwater, lo:0, loPx:1541, hi:30, hiPx:1451, ticks:null, base:0},
 {id:'yOd', series:odontella, lo:0, loPx:1620, hi:15, hiPx:1543, ticks:odontellaTicks, base:0},
 {id:'yIce', series:iceSpecies, lo:0, loPx:1723, hi:16, hiPx:1685, ticks:iceTicks, base:0},
 {id:'yEx', series:extinctSpecies, lo:0, loPx:1818, hi:3, hiPx:1735, ticks:extinctTicks, base:0}
];
const d18OLayout = {lo:-45, loPx:459, hi:-33, hiPx:385};

function rangeFor(p){
  const k = (p.loPx - p.hiPx) / (p.hi - p.lo);
  return {min: p.lo - (B - p.loPx) / k, max: p.hi + (p.hiPx - T) / k};
}

const scales = {
  x: {type:'linear', position:'bottom', min:0, max:20.65,
      afterFit(s){ s.height = 54; },
      grid:{drawOnChartArea:false, drawTicks:true, tickLength:18, color:'#444', lineWidth:1.3},
      border:{display:false},
      ticks:{autoSkip:false, maxRotation:0, minRotation:0, padding:3, color:'#333', font:{family:FONT, size:13}, callback:(v)=>String(v)},
      afterBuildTicks(s){ s.ticks = ageTicks.map(v=>({value:v})); }},
  yD: Object.assign({type:'linear', axis:'y', display:false, position:'left'}, rangeFor(d18OLayout))
};
panelLayout.forEach(p=>{
  const r = rangeFor(p);
  scales[p.id] = {type:'linear', axis:'y', position:{x:-0.24}, min:r.min, max:r.max, display: !!p.ticks,
    grid:{display:false}, border:{display:false},
    ticks:{autoSkip:false, padding:10, color:'#6e6e6e', font:{family:FONT, size:12}, callback:(v)=>String(v)},
    afterBuildTicks(s){ s.ticks = (p.ticks||[]).map(v=>({value:v})); }};
});

const datasets = panelLayout.map(p=>({
  data:p.series, xAxisID:'x', yAxisID:p.id, borderColor:'#111', borderWidth:1.7,
  pointRadius:2.1, pointBackgroundColor:'#111', pointBorderWidth:0, pointHoverRadius:2.1,
  backgroundColor:'rgba(176,176,176,0.74)', fill:{value:p.base}, tension:0, clip:false
}));
datasets.push({data:d18OAge.map((a,i)=>[a, d18OVal[i]]), xAxisID:'x', yAxisID:'yD', borderColor:'#2b3a9a',
  borderWidth:3.2, pointRadius:0, fill:false, tension:0, clip:false});

// ---------------- ANNOTATIONS ----------------
const topLabels = [
 ['ХС темных веков,', 99, 223, 28], ['1200-1300 т.л.н', 125, 219, 72],
 ['СБ-3,коллапс 4200 т.л.н', 265, 233, 10], ['ХС 5,65 т.л.н', 340, 231, 115],
 ['Термический', 373, 197, 54], ['максимум', 399, 187, 84], ['голоцена', 425, 187, 90],
 ['ХС 8,2 т.л.н', 469, 233, 130], ['ХС 9,3 т.л.н', 520, 235, 132], ['ХС 11,2 т.л.н', 613, 235, 123],
 ['Поздний дриас', 670, 235, 85], ['Аллерёд', 733, 230, 147], ['Средний дриас', 764, 230, 78],
 ['Бёллинг', 796, 232, 148], ['Ранний дриас', 825, 232, 95], ['HS1', 895, 208, 173],
 ['LGM1', 1001, 226, 176], ['LGM2', 1065, 226, 176],
 ['Максимум', 1010, 150, 50], ['последнего', 1037, 152, 43], ['оледенения', 1064, 156, 43]
];
const NAVY = '#28286e';
const panelLabels = [
 ['Содержание створок диатомей в 1г. осадка, млн', 717, 283, 480, 'normal', 'bold', '#1a1a1a', false],
 ['(‰)', 309, 425, 30, 'normal', '600', '#333', true],
 ['d18O NGRIP1', 312, 443, 91, 'normal', '600', '#333', true],
 ['Rasmussen, 2014', 309, 462, 120, 'normal', '600', '#333', true],
 ['Thalassiothrix longissima, %', 448, 525, 240, 'italic', '600', '#1a1a1a', true],
 ['Actinocyclus curvatulus., %', 186, 651, 233, 'italic', '600', '#1a1a1a', true],
 ['Neodenticula seminae, %', 933, 766, 217, 'italic', '600', '#1a1a1a', true],
 ['Сумма T.eccentrica + S. latimarginatus, %', 249, 842, 362, 'italic', '600', '#1a1a1a', true],
 ['Thalassiosira antarctica, %', 855, 973, 225, 'italic', '600', NAVY, true],
 ['Видовое богатство, шт.', 356, 1082, 206, 'normal', '600', '#1a1a1a', true],
 ['Rhizosolenia hebetata f. hiemalis, %', 514, 1233, 312, 'italic', '600', NAVY, true],
 ['Chaetoceros spp., %', 234, 1366, 170, 'italic', '600', '#1a1a1a', true],
 ['Сумма пресноводных видов, %', 352, 1493, 284, 'normal', '600', '#1a1a1a', true],
 ['Odontella aurita, %', 575, 1580, 168, 'italic', '600', NAVY, true],
 ['Сумма ледовых видов, %', 403, 1651, 262, 'normal', 'bold', '#1a1a1a', true],
 ['Сумма вымерших видов, %', 202, 1757, 253, 'normal', 'bold', '#1a1a1a', true]
];

function drawFitted(ctx, text, x, y, target, style, weight, color, rot, align){
  ctx.font = `${style} ${weight} 20px ${FONT}`;
  const size = 20 * target / ctx.measureText(text).width;
  ctx.save();
  ctx.font = `${style} ${weight} ${size.toFixed(2)}px ${FONT}`;
  ctx.translate(x, y); ctx.rotate(rot);
  ctx.textAlign = align; ctx.textBaseline = 'middle'; ctx.fillStyle = color;
  ctx.fillText(text, 0, 0);
  ctx.restore();
}

const decor = {
  id:'decor',
  beforeDatasetsDraw(chart){
    const ctx = chart.ctx, xs = chart.scales.x;
    ctx.save();
    intervals.forEach(([s,e,k])=>{
      const x0 = xs.getPixelForValue(s), x1 = xs.getPixelForValue(e);
      ctx.fillStyle = bandColors[k];
      ctx.fillRect(x0, BAND_TOP, x1 - x0, B - BAND_TOP);
    });
    ctx.lineWidth = 1.2;
    boundaries.forEach(([v,c])=>{
      const x = Math.round(xs.getPixelForValue(v)) + 0.5;
      ctx.strokeStyle = c; ctx.beginPath(); ctx.moveTo(x, BAND_TOP); ctx.lineTo(x, B); ctx.stroke();
    });
    // secondary age labels under the first panel
    ctx.fillStyle = '#8a8a8a'; ctx.font = `9px ${FONT}`; ctx.textAlign = 'center'; ctx.textBaseline = 'middle';
    ageTicksFine.forEach((v,i)=>ctx.fillText(ageTicksFineLabels[i], xs.getPixelForValue(v), 372));
    ctx.restore();
  },
  afterDatasetsDraw(chart){
    const ctx = chart.ctx;
    ctx.save();
    // header boxes
    ctx.fillStyle = '#f8f1b2'; ctx.fillRect(358, 46, 86, 156);
    ctx.fillStyle = '#c9c7ec'; ctx.fillRect(994, 38, 82, 124);
    topLabels.forEach(([t,x,yb,yt])=>drawFitted(ctx, t, x, yb, yb-yt, 'normal', 'bold', '#1a1a1a', -Math.PI/2, 'left'));
    panelLabels.forEach(([t,cx,cy,w,st,wt,col,flip])=>drawFitted(ctx, t, cx, cy, w, st, wt, col, flip?Math.PI:0, 'center'));
    // d18O axis box
    const yD = chart.scales.yD;
    ctx.strokeStyle = '#2b3a9a'; ctx.lineWidth = 1.5;
    ctx.strokeRect(27.5, 378.5, 14, 89);
    ctx.fillStyle = '#2b3a9a';
    ctx.font = `6.5px ${FONT}`;
    d18OTicks.forEach(v=>{
      const y = yD.getPixelForValue(v);
      ctx.beginPath(); ctx.moveTo(27, y); ctx.lineTo(31, y); ctx.stroke();
      ctx.save(); ctx.translate(36, y); ctx.rotate(-Math.PI/2);
      ctx.textAlign = 'center'; ctx.textBaseline = 'middle'; ctx.fillText(String(v), 0, 0); ctx.restore();
    });
    // x-axis caption
    ctx.fillStyle = '#666'; ctx.font = `8px ${FONT}`; ctx.textAlign = 'center'; ctx.textBaseline = 'middle';
    ctx.fillText('Тыс. лет', 505, 1865);
    ctx.restore();
  }
};

new Chart(document.getElementById('c'), {
  type:'line',
  data:{datasets},
  options:{
    responsive:false, devicePixelRatio:1, animation:false,
    layout:{padding:{top:T, left:45, right:10, bottom:0}},
    plugins:{legend:{display:false}, tooltip:{enabled:false}},
    events:[],
    scales
  },
  plugins:[decor]
});
</script>
</body></html>
